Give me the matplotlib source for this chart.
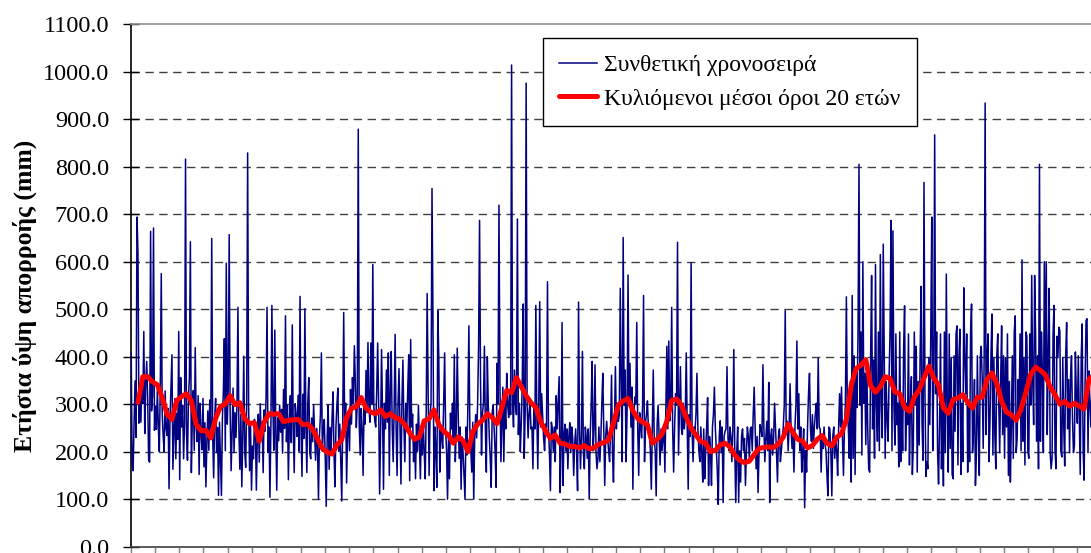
import matplotlib
matplotlib.use('Agg')
import matplotlib.pyplot as plt
import numpy as np

plt.rcParams['font.family'] = ['Liberation Serif', 'DejaVu Serif']

# Annual runoff of the synthetic series (mm), one value per year
synthetic = [
    408, 178, 160, 265, 349, 230, 694, 616, 260, 330,
    262, 355, 301, 453, 238, 345, 390, 312, 182, 178,
    664, 286, 318, 671, 245, 296, 247, 333, 252, 200,
    341, 575, 278, 231, 200, 328, 249, 234, 291, 122,
    268, 333, 404, 163, 242, 312, 185, 281, 226, 453,
    141, 356, 252, 298, 185, 262, 816, 238, 182, 309,
    358, 642, 156, 271, 329, 203, 419, 257, 221, 318,
    152, 302, 238, 204, 312, 168, 261, 126, 219, 286,
    203, 309, 248, 649, 231, 145, 268, 312, 198, 251,
    108, 262, 185, 108, 271, 327, 438, 202, 597, 258,
    331, 657, 277, 160, 242, 334, 198, 282, 230, 298,
    504, 243, 163, 279, 126, 232, 401, 199, 167, 302,
    829, 297, 160, 253, 119, 212, 185, 268, 241, 119,
    231, 279, 178, 301, 228, 262, 156, 288, 243, 318,
    504, 198, 252, 104, 261, 508, 297, 203, 456, 248,
    119, 272, 223, 298, 241, 289, 197, 331, 249, 486,
    221, 298, 141, 262, 318, 219, 467, 251, 156, 301,
    278, 232, 319, 201, 527, 248, 148, 321, 228, 501,
    259, 156, 302, 356, 198, 185, 271, 221, 298, 241,
    182, 249, 212, 100, 231, 278, 408, 201, 248, 268,
    185, 85, 232, 298, 163, 251, 199, 272, 326, 198,
    126, 252, 299, 334, 201, 258, 181, 96, 268, 493,
    249, 302, 134, 241, 278, 202, 331, 258, 356, 301,
    423, 348, 251, 302, 879, 258, 193, 291, 248, 150,
    302, 258, 371, 282, 430, 298, 262, 429, 301, 594,
    298, 265, 252, 328, 429, 301, 111, 238, 415, 282,
    121, 302, 248, 372, 262, 408, 150, 331, 411, 249,
    179, 298, 447, 252, 150, 302, 375, 248, 132, 301,
    393, 258, 179, 302, 248, 331, 404, 139, 436, 252,
    279, 179, 232, 143, 258, 201, 298, 222, 143, 251,
    193, 262, 198, 143, 281, 533, 328, 150, 278, 302,
    754, 479, 118, 252, 198, 125, 497, 398, 157, 248,
    232, 207, 301, 408, 248, 202, 100, 231, 143, 281,
    248, 302, 221, 404, 179, 251, 418, 278, 186, 252,
    121, 231, 198, 150, 100, 252, 193, 301, 465, 248,
    201, 157, 262, 100, 232, 278, 229, 302, 422, 687,
    348, 193, 281, 302, 422, 248, 157, 400, 298, 232,
    186, 125, 282, 298, 251, 202, 125, 386, 301, 719,
    348, 179, 262, 336, 179, 302, 248, 365, 298, 272,
    331, 278, 1014, 298, 252, 372, 301, 278, 690, 236,
    302, 200, 258, 348, 511, 186, 282, 976, 298, 229,
    281, 307, 248, 252, 164, 301, 248, 508, 282, 164,
    298, 516, 252, 322, 278, 229, 202, 258, 251, 558,
    248, 202, 118, 262, 248, 201, 252, 179, 318, 248,
    301, 358, 114, 202, 472, 129, 232, 258, 201, 248,
    164, 232, 261, 198, 252, 228, 150, 215, 248, 202,
    118, 515, 248, 164, 232, 411, 198, 164, 252, 228,
    186, 248, 100, 232, 298, 390, 202, 248, 383, 198,
    164, 186, 252, 179, 228, 302, 365, 248, 129, 232,
    264, 228, 202, 179, 248, 361, 198, 136, 252, 379,
    248, 302, 264, 278, 544, 348, 179, 651, 298, 372,
    179, 282, 572, 298, 386, 252, 336, 121, 278, 315,
    302, 472, 248, 150, 282, 252, 229, 298, 529, 179,
    262, 278, 307, 248, 243, 202, 121, 252, 372, 228,
    202, 107, 258, 298, 232, 172, 248, 202, 229, 252,
    157, 298, 422, 248, 433, 265, 302, 504, 248, 157,
    252, 322, 298, 641, 193, 282, 379, 248, 236, 302,
    248, 278, 408, 252, 121, 278, 232, 598, 248, 179,
    252, 243, 278, 365, 248, 202, 179, 252, 198, 136,
    248, 143, 202, 252, 314, 129, 232, 198, 129, 252,
    278, 336, 248, 202, 160, 89, 232, 265, 198, 252,
    93, 232, 243, 248, 379, 228, 202, 252, 232, 179,
    248, 415, 202, 93, 198, 252, 93, 202, 136, 232,
    248, 202, 228, 129, 198, 252, 232, 186, 248, 252,
    202, 278, 336, 248, 164, 232, 114, 198, 257, 248,
    232, 383, 248, 179, 228, 264, 202, 346, 93, 232,
    248, 193, 228, 302, 252, 198, 136, 232, 248, 179,
    202, 229, 252, 298, 497, 248, 264, 202, 252, 343,
    248, 207, 232, 157, 252, 298, 433, 248, 322, 202,
    252, 157, 198, 248, 82, 202, 157, 252, 322, 365,
    248, 222, 278, 207, 252, 279, 302, 248, 397, 252,
    248, 157, 232, 207, 252, 215, 202, 150, 107, 252,
    248, 202, 107, 232, 252, 186, 228, 202, 150, 248,
    322, 252, 336, 228, 150, 248, 302, 526, 293, 252,
    186, 348, 136, 529, 186, 402, 152, 379, 293, 448,
    805, 298, 452, 193, 600, 302, 365, 215, 393, 248,
    164, 157, 402, 571, 248, 393, 186, 594, 298, 222,
    452, 202, 615, 298, 229, 637, 402, 186, 348, 272,
    222, 357, 452, 687, 202, 665, 298, 214, 448, 257,
    302, 168, 452, 179, 298, 202, 418, 507, 202, 302,
    257, 448, 172, 298, 358, 152, 214, 452, 298, 422,
    157, 348, 214, 402, 548, 257, 182, 767, 322, 148,
    179, 164, 398, 257, 452, 694, 202, 348, 867, 322,
    452, 198, 132, 257, 448, 164, 302, 128, 452, 198,
    574, 302, 157, 448, 207, 398, 152, 143, 402, 243,
    448, 465, 172, 398, 458, 152, 302, 179, 545, 398,
    322, 448, 157, 302, 179, 452, 511, 198, 243, 352,
    129, 193, 402, 248, 150, 398, 422, 352, 207, 402,
    934, 236, 398, 448, 179, 264, 402, 490, 193, 398,
    236, 164, 402, 448, 307, 198, 352, 465, 236, 402,
    186, 398, 252, 448, 150, 348, 136, 257, 402, 186,
    452, 486, 198, 229, 352, 286, 448, 202, 604, 222,
    398, 172, 452, 443, 202, 186, 448, 298, 571, 352,
    257, 571, 448, 222, 402, 164, 805, 222, 452, 365,
    198, 600, 352, 600, 236, 402, 544, 198, 164, 186,
    448, 508, 202, 164, 443, 398, 462, 455, 202, 189,
    398, 252, 170, 402, 472, 248, 352, 198, 357, 402,
    273, 198, 213, 410, 320, 260, 402, 280, 152, 398,
    469, 202, 140, 348, 476, 480, 198, 370, 302, 252,
    330, 410, 280, 350, 300,
]

# 20-year moving average (mm), read every 5th year starting at year 8
moving_avg = [
    304, 358, 358, 347, 341, 314, 279, 268, 308, 316,
    322, 307, 258, 244, 245, 229, 270, 295, 300, 318,
    299, 303, 270, 259, 261, 222, 262, 280, 279, 280,
    263, 266, 267, 268, 257, 258, 247, 227, 207, 199,
    195, 214, 225, 272, 291, 295, 314, 292, 283, 280,
    288, 274, 280, 272, 268, 257, 240, 226, 231, 265,
    269, 288, 257, 243, 235, 218, 231, 223, 200, 242,
    258, 266, 280, 272, 259, 293, 329, 324, 356, 337,
    318, 303, 293, 263, 244, 228, 235, 218, 216, 211,
    211, 208, 213, 206, 208, 216, 219, 225, 261, 298,
    307, 312, 286, 270, 262, 257, 218, 226, 237, 264,
    308, 311, 298, 272, 250, 235, 221, 218, 200, 203,
    214, 218, 210, 193, 182, 177, 180, 194, 207, 209,
    210, 209, 216, 231, 258, 240, 226, 222, 208, 213,
    226, 234, 218, 212, 230, 238, 268, 340, 375, 382,
    394, 339, 325, 337, 358, 354, 326, 322, 293, 285,
    315, 330, 355, 380, 355, 340, 292, 281, 310, 313,
    320, 304, 292, 315, 315, 352, 366, 343, 306, 283,
    278, 266, 290, 325, 363, 378, 371, 362, 336, 320,
    300, 306, 296, 302, 296, 290, 352, 362,
]
MA_FIRST_YEAR = 7
MA_STEP = 5

yticks = np.arange(0, 1101, 100)
label_series = 'Συνθετική χρονοσειρά'
label_ma = 'Κυλιόμενοι μέσοι όροι 20 ετών'
ylabel = 'Ετήσια ύψη απορροής (mm)'

W, H = 1091, 553
fig = plt.figure(figsize=(W / 100, H / 100), dpi=100)
fig.patch.set_facecolor('white')

x_left, x_right = 130.7, 130.7 + 40 * 24.26
y_bottom, y_top = 546.7, 24.2
ax = fig.add_axes([x_left / W, (H - y_bottom) / H, (x_right - x_left) / W, (y_bottom - y_top) / H])

x = np.arange(len(synthetic))
ax.plot(x, synthetic, color='#000080', lw=1.1, label=label_series, zorder=3)
xm = MA_FIRST_YEAR + MA_STEP * np.arange(len(moving_avg))
ax.plot(xm, moving_avg, color='#ff0000', lw=3.6, label=label_ma, zorder=4,
        solid_joinstyle='round', solid_capstyle='round')

ax.set_xlim(-0.5, 999.5)
ax.set_ylim(0, 1100)
ax.set_yticks(yticks)
ax.set_yticklabels([f'{v:.1f}' for v in yticks])
ax.set_xticks(np.arange(-0.5, 1000, 25))
ax.set_xticklabels([])

for yv in yticks[1:-1]:
    ax.axhline(yv, color='#404040', lw=1.0, ls=(0, (6, 4)), zorder=1)

ax.spines['left'].set_color('black')
ax.spines['left'].set_linewidth(1.2)
ax.spines['bottom'].set_color('#404040')
ax.spines['bottom'].set_linewidth(1.2)
ax.spines['top'].set_color('#909090')
ax.spines['top'].set_linewidth(1.2)
ax.spines['right'].set_visible(False)

ax.tick_params(axis='y', direction='inout', length=11, width=1.0, color='black',
               labelsize=17.5, pad=10)
ax.tick_params(axis='x', direction='out', length=5, width=1.0, color='#808080')

fig.text(25 / W, 1 - 296 / H, ylabel, rotation=90, ha='center', va='center',
         fontsize=18.5, fontweight='bold')

leg = ax.legend(loc='upper left', bbox_to_anchor=(542.7 / W, 1 - 38.3 / H),
                bbox_transform=fig.transFigure, fontsize=17, frameon=True,
                fancybox=False, framealpha=1, edgecolor='black',
                borderpad=0.7, labelspacing=0.5, handlelength=1.6,
                handletextpad=0.3, borderaxespad=0)
leg.get_frame().set_linewidth(1.0)

fig.savefig('out.png', dpi=100)
